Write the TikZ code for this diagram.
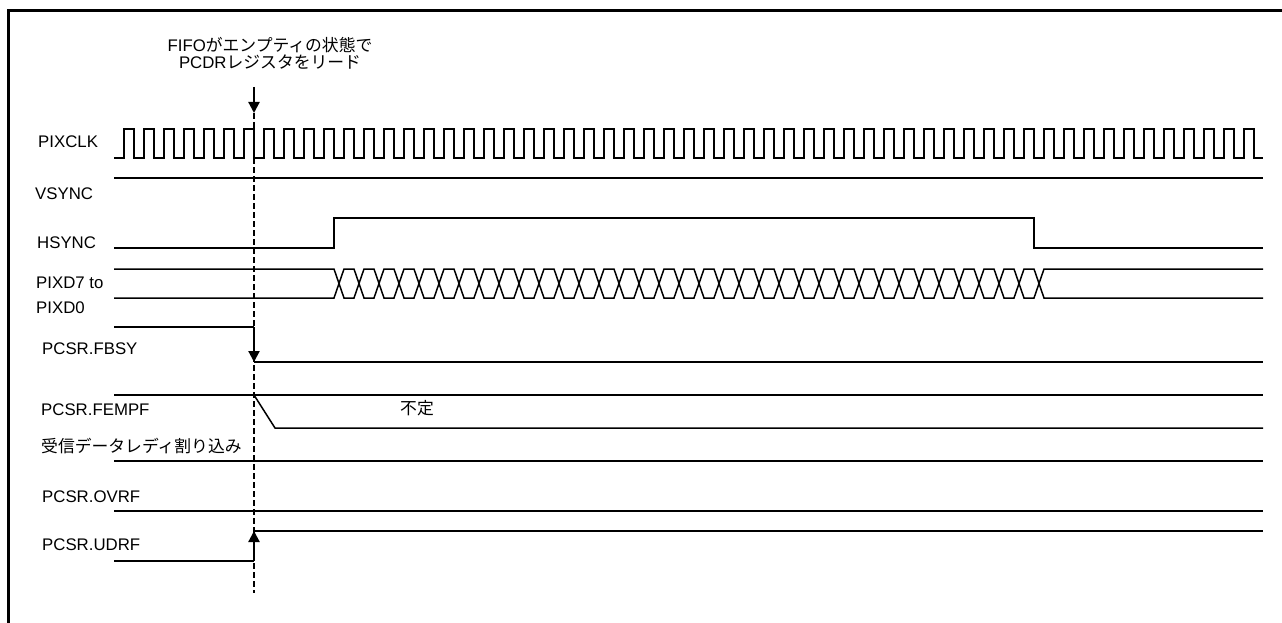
\documentclass[tikz,border=0pt]{standalone}
\usepackage{fontspec}
\setmainfont{Liberation Sans}
\newfontfamily\jp{Noto Sans CJK JP}
\usetikzlibrary{arrows.meta}
\begin{document}
\begin{tikzpicture}[x=1pt,y=-1pt,
  sig/.style={line width=1.5pt, line join=miter},
  lbl/.style={anchor=base west, inner sep=0pt, font=\fontsize{16.8}{20}\selectfont},
  evarrow/.style={line width=2.2pt, -{Triangle[length=11pt,width=11pt]}},
  guide/.style={line width=2.2pt, dash pattern=on 6pt off 3pt}]
\useasboundingbox (0,0) rectangle (1282,623);
% frame (top and left edges)
\draw[line width=3pt] (8.5,623) -- (8.5,10.5) -- (1282,10.5);

% note
\node[inner sep=0pt, align=center, anchor=base, font=\fontsize{16.8}{17.5}\selectfont] (note) at (270,69)
  {FIFO{\jp がエンプティの状態で}\\PCDR{\jp レジスタをリード}};

% labels
\node[lbl] (lclk) at (38,148) {PIXCLK};
\node[lbl] (lvs) at (35,199) {VSYNC};
\node[lbl] (lhs) at (37,248) {HSYNC};
\node[lbl] (ld1) at (36,288.5) {PIXD7 to};
\node[lbl] (ld2) at (36,313) {PIXD0};
\node[lbl] (lfb) at (42,354) {PCSR.FBSY};
\node[lbl] (lfe) at (41,415) {PCSR.FEMPF};
\node[lbl] (lint) at (41,452) {\jp 受信データレディ割り込み};
\node[lbl] (lov) at (42,502) {PCSR.OVRF};
\node[lbl] (lud) at (42,550) {PCSR.UDRF};
\node[lbl, anchor=base] (undef) at (417,414) {\jp 不定};

% PIXCLK
\draw[sig] (114,158) foreach \k in {0,...,56} {
  -- ({124+20*\k},158) -- ({124+20*\k},129) -- ({134+20*\k},129) -- ({134+20*\k},158) } -- (1263,158);
% VSYNC
\draw[sig] (114,178) -- (1263,178);
% HSYNC
\draw[sig] (114,248) -- (334,248) -- (334,218) -- (1034,218) -- (1034,248) -- (1263,248);
% PIXD
\draw[sig] (114,269) -- (334,269) foreach \k in {0,2,...,34} {
  -- ({344+20*\k},298) -- ({354+20*\k},298) -- ({364+20*\k},269) -- ({374+20*\k},269) } -- (1263,269);
\draw[sig] (114,298) -- (334,298) foreach \k in {0,2,...,34} {
  -- ({344+20*\k},269) -- ({354+20*\k},269) -- ({364+20*\k},298) -- ({374+20*\k},298) } -- (1263,298);
% FBSY
\coordinate (fbh) at (254,327);
\coordinate (fbl) at (254,362);
\draw[sig] (114,327) -- (fbh);
\draw[sig] (fbl) -- (1263,362);
\draw[evarrow] (fbh) -- (fbl);
% FEMPF
\draw[sig] (114,395) -- (1263,395);
\draw[sig] (254,395) -- (275,428) -- (1263,428);
% interrupt
\draw[sig] (114,461) -- (1263,461);
% OVRF
\draw[sig] (114,511) -- (1263,511);
% UDRF
\coordinate (udl) at (254,561);
\coordinate (udh) at (254,531);
\draw[sig] (114,561) -- (udl);
\draw[sig] (udh) -- (1263,531);
\draw[evarrow] (udl) -- (udh);
% event marker
\coordinate (mtop) at (254,87);
\coordinate (mmid) at (254,113);
\coordinate (mbot) at (254,593);
\draw[evarrow] (mtop) -- (mmid);
\draw[guide] (mmid) -- (mbot);
\end{tikzpicture}
\end{document}
